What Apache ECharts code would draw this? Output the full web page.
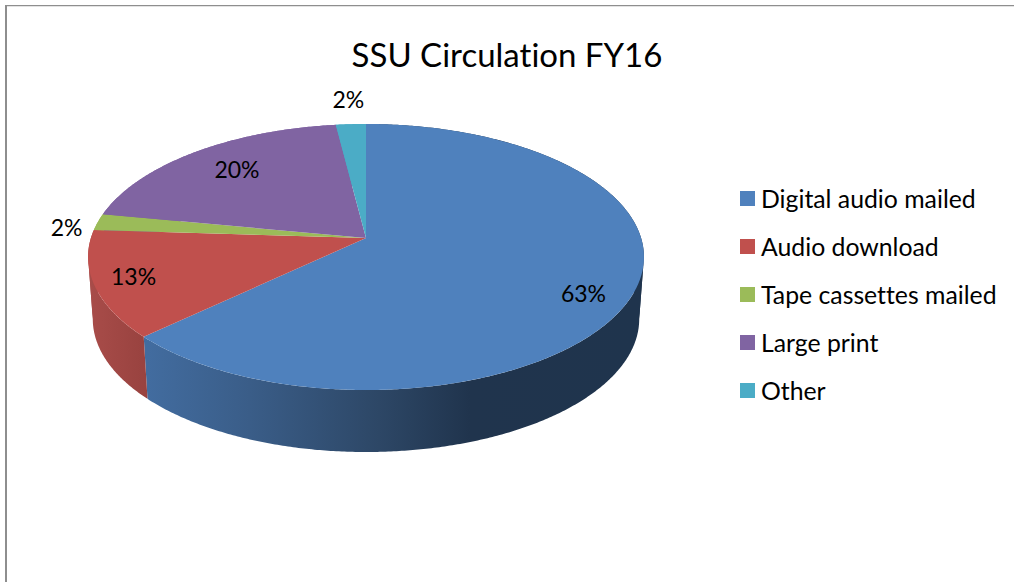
<!DOCTYPE html>
<html>
<head>
<meta charset="utf-8">
<style>html,body{margin:0;padding:0;background:#fff}#c{width:1014px;height:582px}svg text{font-variant-ligatures:none}</style>
<script src="https://cdn.jsdelivr.net/npm/echarts@6/dist/echarts.min.js"></script>
</head>
<body>
<div id="c"></div>
<script>
const titleText = 'SSU Circulation FY16';
const categories = ['Digital audio mailed', 'Audio download', 'Tape cassettes mailed', 'Large print', 'Other'];
const shares = [63, 13, 2, 20, 2];
const topColors = ['#4F81BD', '#C0504D', '#9BBB59', '#8064A2', '#4BACC6'];

// label placement: radial distance (1 = rim) and pixel nudge
const labelRadius = [0.85, 0.85, 1.1, 0.85, 1.2];
const labelNudgeX = [-8, -3, -5, 18, 0];
const labelNudgeY = [9, -1, 7, 5, -6];

// tilted-disc projection
const apexX = 366, apexY = 238, scaleX = 275.1, scaleY = 130.3, persp = 1 / 7;
const depth = 62, lowerShrink = 0.983;
// rim angles where the projected disc reaches its left and right extremes
const foldAngles = [Math.PI - Math.acos(persp), Math.PI + Math.acos(persp)];

function project(theta, r) {
  const u = r * Math.sin(theta), v = -r * Math.cos(theta), w = 1 - persp * v;
  return [apexX + scaleX * u / w, apexY + scaleY * v / w];
}
function lower(p) {
  return [apexX + (p[0] - apexX) * lowerShrink, p[1] + depth];
}
function arc(a, b) {
  const n = Math.max(2, Math.ceil((b - a) / (Math.PI / 360)));
  const pts = [];
  for (let i = 0; i <= n; i++) pts.push(project(a + (b - a) * i / n, 1));
  return pts;
}

const total = shares.reduce((s, v) => s + v, 0);
const ranges = [];
let acc = 0;
shares.forEach(v => {
  ranges.push([acc / total * 2 * Math.PI, (acc + v) / total * 2 * Math.PI]);
  acc += v;
});

function wallFill(i) {
  if (i === 0) {
    return {
      type: 'linear', global: true, x: 148, y: 0, x2: 640, y2: 0,
      colorStops: [
        { offset: 0, color: '#426C9F' },
        { offset: 0.207, color: '#3A5D88' },
        { offset: 0.47, color: '#2D4766' },
        { offset: 0.654, color: '#20344D' },
        { offset: 1, color: '#1F344D' }
      ]
    };
  }
  if (i === 1) {
    return {
      type: 'linear', global: true, x: 90, y: 0, x2: 148, y2: 0,
      colorStops: [{ offset: 0, color: '#A84C49' }, { offset: 1, color: '#98423F' }]
    };
  }
  return topColors[i];
}

const wallSeries = {
  type: 'custom',
  name: 'wall',
  coordinateSystem: 'none',
  z: 1,
  silent: true,
  data: shares.map((v, i) => ({ value: [v, i] })),
  renderItem: (params, api) => {
    const i = api.value(1);
    const a = ranges[i][0], b = ranges[i][1];
    const cuts = [a].concat(foldAngles.filter(f => f > a && f < b), [b]);
    const children = [];
    for (let k = 0; k + 1 < cuts.length; k++) {
      const top = arc(cuts[k], cuts[k + 1]);
      children.push({
        type: 'polygon',
        shape: { points: top.concat(top.map(lower).reverse()) },
        style: { fill: wallFill(i) }
      });
    }
    return { type: 'group', children: children };
  }
};

const sliceSeries = categories.map((name, i) => ({
  type: 'custom',
  name: name,
  coordinateSystem: 'none',
  z: 2,
  silent: true,
  itemStyle: { color: topColors[i] },
  data: [{ value: [shares[i]] }],
  renderItem: () => ({
    type: 'polygon',
    shape: { points: [[apexX, apexY]].concat(arc(ranges[i][0], ranges[i][1])) },
    style: { fill: topColors[i] }
  })
}));

const labelSeries = {
  type: 'custom',
  name: 'labels',
  coordinateSystem: 'none',
  z: 3,
  silent: true,
  data: shares.map((v, i) => ({ value: [v, i] })),
  renderItem: (params, api) => {
    const i = api.value(1);
    const mid = (ranges[i][0] + ranges[i][1]) / 2;
    const p = project(mid, labelRadius[i]);
    return {
      type: 'text',
      x: p[0] + labelNudgeX[i],
      y: p[1] + labelNudgeY[i],
      style: {
        text: Math.round(api.value(0) / total * 100) + '%',
        fill: '#000',
        font: '23px Lato',
        align: 'center',
        verticalAlign: 'middle'
      }
    };
  }
};

const chart = echarts.init(document.getElementById('c'), null, { renderer: 'svg' });
chart.setOption({
  animation: false,
  backgroundColor: '#fff',
  title: {
    text: titleText,
    left: 507,
    top: 54,
    textAlign: 'center',
    textVerticalAlign: 'middle',
    padding: 0,
    textStyle: { fontFamily: 'Lato', fontSize: 33, fontWeight: 'normal', color: '#000' }
  },
  legend: {
    data: categories,
    orient: 'vertical',
    left: 740,
    top: 186,
    padding: 0,
    itemWidth: 15,
    itemHeight: 15,
    itemGap: 23,
    icon: 'rect',
    selectedMode: false,
    textStyle: { fontFamily: 'Lato', fontSize: 24.8, color: '#000', padding: [0, 0, 0, 1] }
  },
  graphic: [
    { type: 'rect', silent: true, shape: { x: 5, y: 5, width: 2, height: 577 }, style: { fill: '#8E8E8E' } },
    { type: 'rect', silent: true, shape: { x: 5, y: 5, width: 1009, height: 1.3 }, style: { fill: '#8E8E8E' } }
  ],
  series: [wallSeries].concat(sliceSeries, [labelSeries])
});
</script>
</body>
</html>
